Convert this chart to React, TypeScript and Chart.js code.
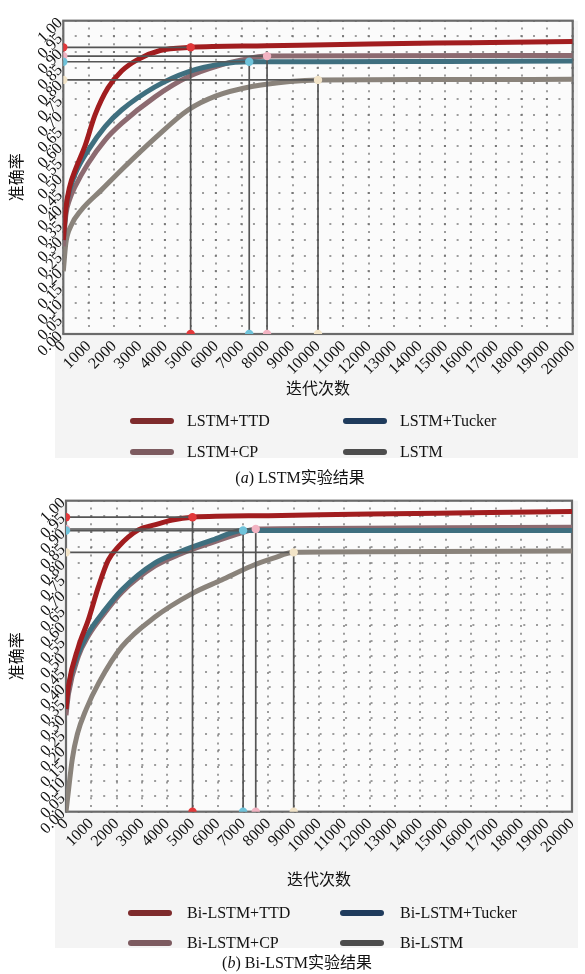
import { useEffect, useRef } from "react";
import { Chart, registerables } from "chart.js";
Chart.register(...registerables);

// ---------- shared axis values ----------
const ITER_MIN = 0;
const ITER_MAX = 20000;
const ITER_STEP = 1000;
const ACC_MIN = 0;
const ACC_MAX = 1;
const ACC_STEP = 0.05;
const X_TITLE = "迭代次数";
const Y_TITLE = "准确率";

// ---------- panel (a): LSTM ----------
const aLabels = ["LSTM+TTD", "LSTM+Tucker", "LSTM+CP", "LSTM"];
const aTtdX = [0, 100, 250, 500, 850, 1250, 1750, 2300, 2900, 3800, 5000, 8000, 12000, 16000, 20000];
const aTtdY = [0.3, 0.4, 0.47, 0.53, 0.6, 0.7, 0.785, 0.84, 0.875, 0.905, 0.915, 0.92, 0.926, 0.93, 0.934];
const aTuckerX = [0, 100, 250, 460, 980, 1640, 2290, 3600, 4900, 6200, 7300, 10000, 15000, 20000];
const aTuckerY = [0.3, 0.4, 0.46, 0.51, 0.587, 0.662, 0.715, 0.789, 0.837, 0.862, 0.869, 0.869, 0.87, 0.871];
const aCpX = [0, 100, 250, 460, 980, 1640, 2290, 3600, 4900, 6200, 7000, 8000, 12000, 20000];
const aCpY = [0.28, 0.38, 0.43, 0.47, 0.545, 0.619, 0.672, 0.757, 0.821, 0.859, 0.875, 0.887, 0.888, 0.889];
const aLstmX = [0, 100, 300, 700, 1500, 2300, 3600, 4900, 6000, 7400, 8900, 10000, 15000, 20000];
const aLstmY = [0.2, 0.29, 0.345, 0.395, 0.46, 0.525, 0.625, 0.715, 0.76, 0.79, 0.806, 0.811, 0.812, 0.813];
const aPeakX = [5000, 7300, 8000, 10000];
const aPeakY = [0.915, 0.869, 0.887, 0.811];

// ---------- panel (b): Bi-LSTM ----------
const bLabels = ["Bi-LSTM+TTD", "Bi-LSTM+Tucker", "Bi-LSTM+CP", "Bi-LSTM"];
const bTtdX = [0, 90, 490, 880, 1280, 1670, 2070, 2860, 3500, 4200, 5000, 8000, 12000, 16000, 20000];
const bTtdY = [0.33, 0.4, 0.53, 0.616, 0.723, 0.809, 0.852, 0.906, 0.922, 0.938, 0.947, 0.952, 0.957, 0.961, 0.965];
const bTuckerX = [0, 100, 490, 880, 1540, 2200, 3520, 4500, 5800, 7000, 10000, 20000];
const bTuckerY = [0.33, 0.4, 0.509, 0.574, 0.649, 0.713, 0.8, 0.836, 0.874, 0.904, 0.904, 0.904];
const bCpX = [0, 100, 490, 880, 1540, 2200, 3520, 4500, 5800, 7000, 7500, 10000, 15000, 20000];
const bCpY = [0.31, 0.38, 0.5, 0.565, 0.64, 0.705, 0.79, 0.828, 0.866, 0.898, 0.909, 0.911, 0.913, 0.915];
const bLstmX = [0, 100, 250, 450, 800, 1300, 2200, 3500, 5000, 6150, 7340, 8200, 9000, 12000, 20000];
const bLstmY = [0.0, 0.07, 0.17, 0.25, 0.33, 0.415, 0.53, 0.625, 0.702, 0.745, 0.79, 0.815, 0.834, 0.836, 0.838];
const bPeakX = [5000, 7000, 7500, 9000];
const bPeakY = [0.947, 0.904, 0.909, 0.834];

// ---------- styles ----------
const LINE_COLORS = ["#a11d1f", "#3f6f7f", "#8c6a70", "#8a837b"];
const LEGEND_COLORS = ["#7e2b2c", "#1f3b5c", "#7d5b60", "#4d4d4d"];
const DOT_COLORS = ["#e2383a", "#6fc3da", "#f2b3c2", "#f2e4c8"];
const SERIF = "'Liberation Serif', 'Times New Roman', 'Noto Sans CJK SC', serif";

type Panel = {
  top: number;
  height: number;
  padTop: number;
  padRight: number;
  padBottom: number;
  yWidth: number;
  xHeight: number;
  labels: string[];
  xs: number[][];
  ys: number[][];
  peakX: number[];
  peakY: number[];
  legendRows: number[];
  swatchX: number[];
  textX: number[];
  bgBottom: number;
};

const panelA: Panel = {
  top: 0,
  height: 470,
  padTop: 20.7,
  padRight: 12.3,
  padBottom: 66.4,
  yWidth: 63.3,
  xHeight: 69.6,
  labels: aLabels,
  xs: [aTtdX, aTuckerX, aCpX, aLstmX],
  ys: [aTtdY, aTuckerY, aCpY, aLstmY],
  peakX: aPeakX,
  peakY: aPeakY,
  legendRows: [421, 452],
  swatchX: [130, 343],
  textX: [187, 400],
  bgBottom: 458,
};

const panelB: Panel = {
  top: 480,
  height: 475,
  padTop: 20.7,
  padRight: 13,
  padBottom: 60.4,
  yWidth: 66,
  xHeight: 82.9,
  labels: bLabels,
  xs: [bTtdX, bTuckerX, bCpX, bLstmX],
  ys: [bTtdY, bTuckerY, bCpY, bLstmY],
  peakX: bPeakX,
  peakY: bPeakY,
  legendRows: [433, 463],
  swatchX: [128, 340],
  textX: [187, 400],
  bgBottom: 468,
};

function makeChart(canvas: HTMLCanvasElement, p: Panel) {
  const markerSets = p.peakX.map((px, i) => ({
    type: "line" as const,
    label: "peak-" + i,
    data: [
      { x: ITER_MIN, y: p.peakY[i] },
      { x: px, y: p.peakY[i] },
      { x: px, y: ACC_MIN },
    ],
    borderColor: "#555555",
    borderWidth: 1.7,
    tension: 0,
    pointRadius: 4.2,
    pointBackgroundColor: DOT_COLORS[i],
    pointBorderWidth: 0,
    fill: false,
  }));
  const curveSets = p.xs.map((xs, i) => ({
    type: "line" as const,
    label: p.labels[i],
    data: xs.map((x, j) => ({ x, y: p.ys[i][j] })),
    borderColor: LINE_COLORS[i],
    borderWidth: 5,
    pointRadius: 0,
    cubicInterpolationMode: "monotone" as const,
    fill: false,
  }));

  const decor = {
    id: "panelDecor",
    beforeDraw(chart: any) {
      const { ctx, chartArea: a } = chart;
      ctx.save();
      ctx.fillStyle = "#f4f4f4";
      ctx.fillRect(55, a.top, 523, p.bgBottom - a.top);
      ctx.fillStyle = "#fbfbfb";
      ctx.fillRect(a.left, a.top, a.right - a.left, a.bottom - a.top);
      ctx.restore();
    },
    beforeDatasetsDraw(chart: any) {
      const { ctx, chartArea: a } = chart;
      ctx.save();
      ctx.strokeStyle = "#6a6a6a";
      ctx.lineWidth = 2.2;
      ctx.strokeRect(a.left, a.top, a.right - a.left, a.bottom - a.top);
      ctx.restore();
    },
    afterDraw(chart: any) {
      const { ctx } = chart;
      ctx.save();
      p.labels.forEach((lab, i) => {
        const row = Math.floor(i / 2);
        const col = i % 2;
        const y = p.legendRows[row];
        const sx = p.swatchX[col];
        ctx.strokeStyle = LEGEND_COLORS[i];
        ctx.lineWidth = 6;
        ctx.lineCap = "round";
        ctx.beginPath();
        ctx.moveTo(sx + 3, y);
        ctx.lineTo(sx + 41, y);
        ctx.stroke();
        ctx.fillStyle = "#111";
        ctx.font = "16px " + SERIF;
        ctx.textBaseline = "middle";
        ctx.textAlign = "left";
        ctx.fillText(lab, p.textX[col], y + 1);
      });
      ctx.restore();
    },
  };

  return new Chart(canvas, {
    type: "line",
    data: { datasets: [...markerSets, ...curveSets] as any },
    options: {
      responsive: false,
      animation: false,
      devicePixelRatio: 1,
      layout: { padding: { top: p.padTop, right: p.padRight, bottom: p.padBottom, left: 0 } },
      plugins: { legend: { display: false }, tooltip: { enabled: false } },
      scales: {
        x: {
          type: "linear",
          min: ITER_MIN,
          max: ITER_MAX,
          afterFit: (s: any) => {
            s.height = p.xHeight;
            s.paddingLeft = 0;
            s.paddingRight = 0;
          },
          grid: {
            color: "rgba(95,95,95,0.6)",
            lineWidth: 2,
            drawTicks: false,
          },
          border: { display: false, dash: [2, 5.83], dashOffset: 1 },
          ticks: {
            stepSize: ITER_STEP,
            autoSkip: false,
            minRotation: 45,
            maxRotation: 45,
            padding: 3,
            color: "#111",
            font: { family: SERIF, size: 16 },
            callback: (v: any) => String(v),
          },
          title: {
            display: true,
            text: X_TITLE,
            color: "#111",
            font: { family: SERIF, size: 16 },
            padding: { top: 4, bottom: 4 },
          },
        },
        y: {
          type: "linear",
          min: ACC_MIN,
          max: ACC_MAX,
          afterFit: (s: any) => {
            s.width = p.yWidth;
            s.paddingTop = 0;
            s.paddingBottom = 0;
          },
          grid: {
            color: "rgba(95,95,95,0.6)",
            lineWidth: 2,
            drawTicks: false,
          },
          border: { display: false, dash: [2, 10.73], dashOffset: 1 },
          ticks: {
            stepSize: ACC_STEP,
            autoSkip: false,
            minRotation: 45,
            maxRotation: 45,
            padding: 3,
            color: "#111",
            font: { family: SERIF, size: 16 },
            callback: (v: any) => Number(v).toFixed(2),
          },
          title: {
            display: true,
            text: Y_TITLE,
            color: "#111",
            font: { family: SERIF, size: 16 },
            padding: { top: 8.4, bottom: 0 },
          },
        },
      },
    },
    plugins: [decor],
  });
}

function PanelChart({ p }: { p: Panel }) {
  const ref = useRef<HTMLCanvasElement | null>(null);
  useEffect(() => {
    if (!ref.current) return;
    const c = makeChart(ref.current, p);
    return () => c.destroy();
  }, [p]);
  return (
    <canvas
      ref={ref}
      width={585}
      height={p.height}
      style={{ position: "absolute", left: 0, top: p.top, width: 585, height: p.height }}
    />
  );
}

export default function App() {
  const captionStyle = (top: number, width: number): React.CSSProperties => ({
    position: "absolute",
    left: 0,
    top,
    width,
    textAlign: "center",
    fontFamily: SERIF,
    fontSize: 16,
    lineHeight: "20px",
    color: "#111",
    whiteSpace: "nowrap",
  });
  return (
    <div style={{ position: "absolute", left: 0, top: 0, width: 585, height: 974, background: "#fff", overflow: "hidden" }}>
      <PanelChart p={panelA} />
      <div style={captionStyle(468, 600)}>
        (<i>a</i>) LSTM实验结果
      </div>
      <PanelChart p={panelB} />
      <div style={captionStyle(953, 594)}>
        (<i>b</i>) Bi-LSTM实验结果
      </div>
    </div>
  );
}
